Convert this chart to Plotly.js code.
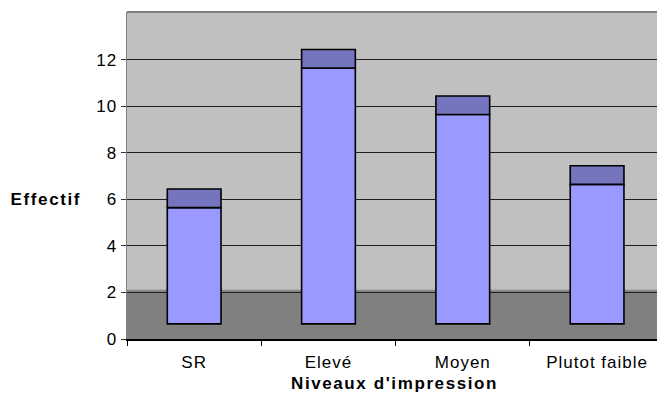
<!DOCTYPE html>
<html>
<head>
<meta charset="utf-8">
<script src="https://cdn.plot.ly/plotly-3.0.1.min.js"></script>
<style>
  html, body { margin: 0; padding: 0; background: #fff; overflow: hidden; }
  #chart { width: 657px; height: 411px; }
  #chart .xtick text, #chart .ytick text { letter-spacing: 1px; }
  #chart .annotation-text { letter-spacing: 1.6px; }
</style>
</head>
<body>
<div id="chart"></div>
<script>
// Effectifs par niveau d'impression
const categories = ['SR', 'Elevé', 'Moyen', 'Plutot faible'];
const effectifs = [5, 11, 9, 6];
const yTicks = [0, 2, 4, 6, 8, 10, 12];

// 3D-style column look: columns stand on a raised floor and carry a darker top face
const FLOOR = 0.65;
const TOP_FACE = 0.8;

const faceBases = effectifs.map(() => FLOOR);
const topBases = effectifs.map(v => v + FLOOR);
const topHeights = effectifs.map(() => TOP_FACE);

const columns = {
  type: 'bar',
  x: categories,
  y: effectifs,
  base: faceBases,
  width: 0.4,
  marker: { color: '#9999FF', line: { color: '#000000', width: 1.6 } },
  hoverinfo: 'skip'
};

const tops = {
  type: 'bar',
  x: categories,
  y: topHeights,
  base: topBases,
  width: 0.4,
  marker: { color: '#7574BE', line: { color: '#000000', width: 1.6 } },
  hoverinfo: 'skip'
};

const font = { family: 'Liberation Sans, Arial, sans-serif', size: 17, color: '#000' };

const layout = {
  width: 657,
  height: 411,
  margin: { l: 127, r: 0, t: 12, b: 72 },
  paper_bgcolor: '#FFFFFF',
  plot_bgcolor: '#C0C0C0',
  barmode: 'overlay',
  showlegend: false,
  font: font,
  xaxis: {
    type: 'category',
    range: [-0.5, 3.446],
    tickson: 'boundaries',
    ticks: 'outside',
    ticklen: 5,
    tickwidth: 1,
    tickcolor: '#000',
    ticklabelstandoff: 7,
    showline: true,
    linecolor: '#000',
    linewidth: 1.5,
    showgrid: false,
    zeroline: false,
    tickfont: font,
    fixedrange: true
  },
  yaxis: {
    range: [0, 14.06],
    tickvals: yTicks,
    ticktext: yTicks.map(String),
    ticks: 'outside',
    ticklen: 5,
    tickwidth: 1,
    tickcolor: '#333',
    showline: true,
    linecolor: '#808080',
    linewidth: 1.5,
    showgrid: true,
    gridcolor: '#1E1E1E',
    gridwidth: 1,
    zeroline: false,
    tickfont: font,
    fixedrange: true
  },
  shapes: [
    // darker floor band
    { type: 'rect', xref: 'paper', yref: 'y', x0: 0, x1: 1, y0: 0, y1: 2.1,
      fillcolor: '#808080', line: { width: 0 }, layer: 'between' },
    { type: 'line', xref: 'paper', yref: 'y', x0: 0, x1: 1, y0: 2.1, y1: 2.1,
      line: { color: '#8E8E8E', width: 1 }, layer: 'between' },
    // top frame edge
    { type: 'line', xref: 'paper', yref: 'paper', x0: 0, x1: 1, y0: 1, y1: 1,
      line: { color: '#808080', width: 2 }, layer: 'above' }
  ],
  annotations: [
    { text: '<b>Effectif</b>', xref: 'paper', yref: 'y', x: 0, y: 6,
      xanchor: 'left', yanchor: 'middle', xshift: -112, showarrow: false,
      font: font },
    { text: "<b>Niveaux d'impression</b>", xref: 'paper', yref: 'paper',
      x: 0.504, y: -0.1346, xanchor: 'center', yanchor: 'middle', showarrow: false,
      font: font }
  ]
};

Plotly.newPlot('chart', [columns, tops], layout, { displayModeBar: false, staticPlot: true });
</script>
</body>
</html>
